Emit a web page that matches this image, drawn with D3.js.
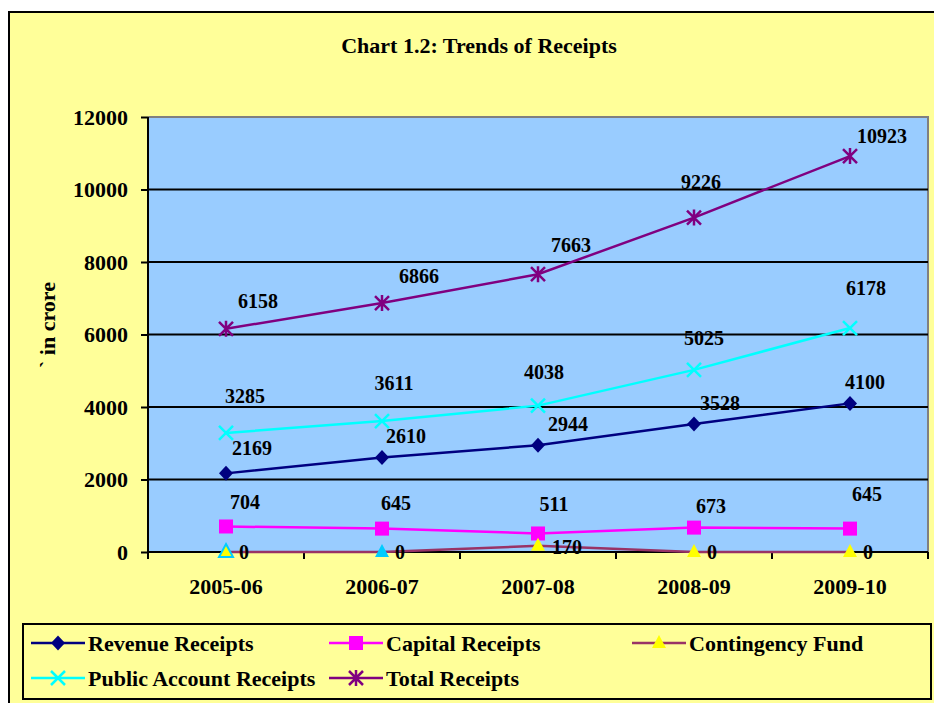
<!DOCTYPE html>
<html>
<head>
<meta charset="utf-8">
<script src="https://cdn.jsdelivr.net/npm/d3@7"></script>
<style>
  html, body { margin: 0; padding: 0; background: #ffffff; }
  svg { display: block; }
  text { font-family: "Liberation Serif", "Times New Roman", serif; font-weight: bold; fill: #000; }
</style>
</head>
<body>
<svg id="chart" width="934" height="703"></svg>
<script>
// ---------------- data ----------------
const categories = ["2005-06", "2006-07", "2007-08", "2008-09", "2009-10"];
const revenueReceipts = [2169, 2610, 2944, 3528, 4100];
const capitalReceipts = [704, 645, 511, 673, 645];
const contingencyFund = [0, 0, 170, 0, 0];
const publicAccountReceipts = [3285, 3611, 4038, 5025, 6178];
const totalReceipts = [6158, 6866, 7663, 9226, 10923];
const yTicks = [0, 2000, 4000, 6000, 8000, 10000, 12000];
const seriesNames = ["Revenue Receipts", "Capital Receipts", "Contingency Fund", "Public Account Receipts", "Total Receipts"];

// ---------------- label placement (center offsets from the point) ----------------
const labelOffsets = {
  "Revenue Receipts": [[26,-25],[24,-21],[30,-21],[26,-21],[15,-21]],
  "Capital Receipts": [[19,-24],[14,-26],[16,-29],[17,-22],[17,-35]],
  "Contingency Fund": [[18,0],[18,0],[29,1],[18,0],[18,0]],
  "Public Account Receipts": [[19,-37],[12,-38],[6,-34],[10,-32],[16,-40]],
  "Total Receipts": [[32,-28],[37,-27],[33,-29],[7,-36],[32,-20]]
};

const styles = {
  "Revenue Receipts": { color: "#000080", marker: "diamond", fill: "#000080" },
  "Capital Receipts": { color: "#FF00FF", marker: "square", fill: "#FF00FF" },
  "Contingency Fund": { color: "#993366", marker: "triangle", fill: "#FFFF00" },
  "Public Account Receipts": { color: "#00FFFF", marker: "x", fill: "none" },
  "Total Receipts": { color: "#800080", marker: "star", fill: "none" }
};
// individual triangle formatting seen in the original
const triangleFill = ["#FFFF00", "#00CCFF", "#FFFF00", "#FFFF00", "#FFFF00"];
const triangleStroke = ["#00CCFF", "none", "none", "none", "none"];

const seriesValues = [revenueReceipts, capitalReceipts, contingencyFund, publicAccountReceipts, totalReceipts];
const series = seriesNames.map((n, i) => ({ name: n, values: seriesValues[i] }));

// ---------------- layout ----------------
const svg = d3.select("#chart");
const plot = { left: 148, right: 928, top: 117, bottom: 552 };

const x = d3.scaleBand().domain(categories).range([plot.left, plot.right]);
const cx = c => x(c) + x.bandwidth() / 2;
const y = d3.scaleLinear().domain([0, 12000]).range([plot.bottom, plot.top]);

// chart area
svg.append("rect").attr("x", 9).attr("y", 12).attr("width", 960).attr("height", 720)
  .attr("fill", "#FFFF99").attr("stroke", "#000").attr("stroke-width", 2);

// title
svg.append("text").attr("x", 479).attr("y", 53).attr("text-anchor", "middle")
  .style("font-size", "22px").text("Chart 1.2: Trends of Receipts");

// plot area
svg.append("rect").attr("x", plot.left).attr("y", plot.top)
  .attr("width", plot.right - plot.left).attr("height", plot.bottom - plot.top)
  .attr("fill", "#99CCFF");
// gray border top/right
svg.append("path")
  .attr("d", `M${plot.left},${plot.top}H${plot.right}V${plot.bottom}`)
  .attr("fill", "none").attr("stroke", "#808080").attr("stroke-width", 2);

// gridlines
svg.append("g").selectAll("line").data(yTicks.filter(t => t > 0 && t < 12000)).join("line")
  .attr("x1", plot.left).attr("x2", plot.right)
  .attr("y1", d => y(d)).attr("y2", d => y(d))
  .attr("stroke", "#000").attr("stroke-width", 2);

// y axis
const yAxis = svg.append("g").attr("transform", `translate(${plot.left},0)`)
  .call(d3.axisLeft(y).tickValues(yTicks).tickSize(7).tickPadding(13).tickFormat(d3.format("d")));
yAxis.select(".domain").attr("stroke", "#000").attr("stroke-width", 2)
  .attr("d", `M0,${plot.top}V${plot.bottom}`);
yAxis.selectAll(".tick line").attr("stroke", "#000").attr("stroke-width", 2);
yAxis.selectAll(".tick text").style("font-size", "22px")
  .style("font-family", "'Liberation Serif', serif").style("font-weight", "bold").attr("fill", "#000");

// y axis title
svg.append("text").attr("transform", "translate(55,325) rotate(-90)")
  .attr("text-anchor", "middle").style("font-size", "22px").text("` in crore");

// x axis
const xAxis = svg.append("g").attr("transform", `translate(0,${plot.bottom})`)
  .call(d3.axisBottom(x).tickSize(0).tickPadding(26));
xAxis.select(".domain").attr("stroke", "#000").attr("stroke-width", 2)
  .attr("d", `M${plot.left},0H${plot.right}`);
xAxis.selectAll(".tick text").style("font-size", "22px")
  .style("font-family", "'Liberation Serif', serif").style("font-weight", "bold").attr("fill", "#000");
const bounds = categories.map(c => x(c)).concat([x.range()[1]]);
xAxis.append("g").selectAll("line").data(bounds).join("line")
  .attr("x1", d => d).attr("x2", d => d).attr("y1", 0).attr("y2", 7)
  .attr("stroke", "#000").attr("stroke-width", 2);

// ---------------- markers ----------------
function drawMarker(g, type, fill, stroke, px, py, scale) {
  const s = scale || 1;
  if (type === "diamond") {
    g.append("path").attr("d", `M${px},${py - 7.5*s}L${px + 7*s},${py}L${px},${py + 7.5*s}L${px - 7*s},${py}Z`)
      .attr("fill", fill);
  } else if (type === "square") {
    g.append("rect").attr("x", px - 7*s).attr("y", py - 7*s).attr("width", 14*s).attr("height", 14*s)
      .attr("fill", fill);
  } else if (type === "triangle") {
    g.append("path").attr("d", `M${px},${py - 8*s}L${px + 7*s},${py + 5*s}L${px - 7*s},${py + 5*s}Z`)
      .attr("fill", fill).attr("stroke", stroke || "none").attr("stroke-width", 2);
  } else if (type === "x") {
    g.append("path").attr("d", `M${px - 7*s},${py - 7*s}L${px + 7*s},${py + 7*s}M${px + 7*s},${py - 7*s}L${px - 7*s},${py + 7*s}`)
      .attr("stroke", stroke).attr("stroke-width", 2.5).attr("fill", "none");
  } else if (type === "star") {
    g.append("path").attr("d", `M${px - 7*s},${py - 7*s}L${px + 7*s},${py + 7*s}M${px + 7*s},${py - 7*s}L${px - 7*s},${py + 7*s}M${px},${py - 8*s}V${py + 8*s}`)
      .attr("stroke", stroke).attr("stroke-width", 2.5).attr("fill", "none");
  }
}

// ---------------- lines ----------------
const line = d3.line().x((d, i) => cx(categories[i])).y(d => y(d));
const linesG = svg.append("g");
series.forEach(s => {
  const st = styles[s.name];
  linesG.append("path").attr("d", line(s.values))
    .attr("fill", "none").attr("stroke", st.color).attr("stroke-width", 2.5);
});
const markersG = svg.append("g");
series.forEach(s => {
  const st = styles[s.name];
  s.values.forEach((v, i) => {
    const px = cx(categories[i]), py = y(v);
    if (st.marker === "triangle") {
      drawMarker(markersG, "triangle", triangleFill[i], triangleStroke[i], px, py);
    } else {
      drawMarker(markersG, st.marker, st.fill, st.color, px, py);
    }
  });
});

// data labels
const labelsG = svg.append("g");
series.forEach(s => {
  s.values.forEach((v, i) => {
    const [dx, dy] = labelOffsets[s.name][i];
    labelsG.append("text")
      .attr("x", cx(categories[i]) + dx).attr("y", y(v) + dy + 7)
      .attr("text-anchor", "middle").style("font-size", "20px").text(v);
  });
});

// ---------------- legend ----------------
svg.append("rect").attr("x", 23).attr("y", 624).attr("width", 908).attr("height", 75)
  .attr("fill", "#FFFF99").attr("stroke", "#000").attr("stroke-width", 2);
const legendPos = [
  { x: 31, y: 643 }, { x: 329, y: 643 }, { x: 632, y: 643 },
  { x: 31, y: 678 }, { x: 329, y: 678 }
];
const legendG = svg.append("g");
series.forEach((s, i) => {
  const st = styles[s.name];
  const p = legendPos[i];
  legendG.append("line").attr("x1", p.x).attr("x2", p.x + 54).attr("y1", p.y).attr("y2", p.y)
    .attr("stroke", st.color).attr("stroke-width", 2.5);
  const mStroke = st.marker === "triangle" ? "none" : st.color;
  drawMarker(legendG, st.marker, st.fill, mStroke, p.x + 27, p.y, 1);
  legendG.append("text").attr("x", p.x + 57).attr("y", p.y + 8)
    .style("font-size", "22px").text(s.name);
});
</script>
</body>
</html>
